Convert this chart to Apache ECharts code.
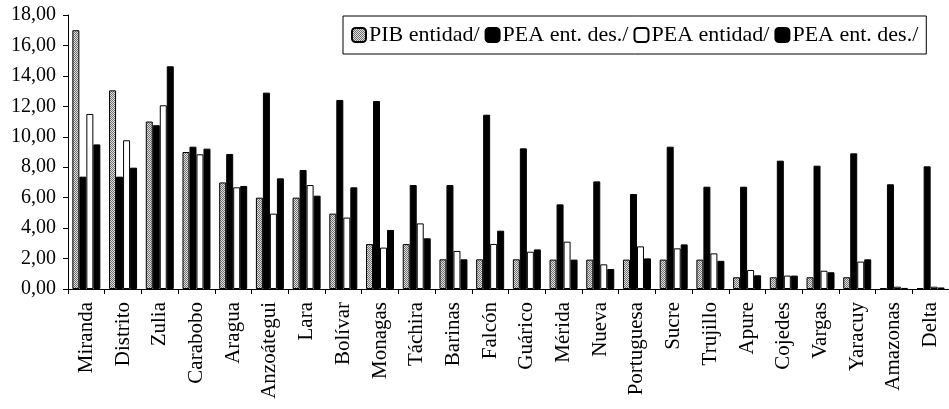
<!DOCTYPE html>
<html><head><meta charset="utf-8">
<script src="https://cdn.jsdelivr.net/npm/echarts@6/dist/echarts.min.js"></script>
<style>html,body{margin:0;padding:0;background:#fff}#c{width:949px;height:409px}</style>
</head><body><div id="c"></div>
<script>
var categories = ['Miranda','Distrito','Zulia','Carabobo','Aragua','Anzoátegui','Lara','Bolívar','Monagas','Táchira','Barinas','Falcón','Guárico','Mérida','Nueva','Portuguesa','Sucre','Trujillo','Apure','Cojedes','Vargas','Yaracuy','Amazonas','Delta'];
var pibEntidad = [17.0, 13.05, 11.0, 9.0, 7.0, 6.0, 6.0, 4.95, 2.95, 2.95, 1.95, 1.95, 1.95, 1.93, 1.93, 1.93, 1.93, 1.93, 0.77, 0.77, 0.77, 0.77, 0.05, 0.05];
var peaEntDes1 = [7.38, 7.38, 10.76, 9.35, 8.87, 12.9, 7.82, 12.42, 12.35, 6.83, 6.83, 11.45, 9.24, 5.56, 7.07, 6.24, 9.35, 6.72, 6.72, 8.43, 8.1, 8.91, 6.88, 8.06];
var peaEntidad = [11.5, 9.77, 12.07, 8.85, 6.68, 4.95, 6.83, 4.69, 2.72, 4.31, 2.5, 2.96, 2.45, 3.11, 1.62, 2.8, 2.67, 2.34, 1.25, 0.88, 1.2, 1.8, 0.15, 0.15];
var peaEntDes2 = [9.5, 7.97, 14.63, 9.22, 6.77, 7.27, 6.13, 6.68, 3.88, 3.33, 1.95, 3.83, 2.6, 1.93, 1.31, 2.01, 2.93, 1.85, 0.9, 0.88, 1.1, 1.95, 0.07, 0.1];
var seriesNames = ['PIB entidad/', 'PEA ent. des./', 'PEA entidad/', 'PEA ent. des./ (2)'];

var pc = document.createElement('canvas'); pc.width = 2; pc.height = 2;
var g = pc.getContext('2d');
g.fillStyle = '#e0e0e0'; g.fillRect(0,0,2,2);
g.fillStyle = '#707070'; g.fillRect(0,0,1,1); g.fillRect(1,1,1,1);
var hatch = {image: pc, repeat: 'repeat'};

var FONT = 'Liberation Serif';
var chart = echarts.init(document.getElementById('c'), null, {renderer: 'canvas'});
function mk(name, data, color) {
  return {name: name, type: 'bar', data: data, barWidth: 7, barGap: '0%',
    itemStyle: {color: color, borderColor: '#000', borderWidth: 1}, animation: false};
}
chart.setOption({
  animation: false,
  textStyle: {fontFamily: FONT, color: '#000'},
  grid: {left: 68, top: 15, width: 886, bottom: 120, containLabel: false},
  legend: {
    left: 343, top: 16, itemWidth: 14, itemHeight: 14, itemGap: 5,
    padding: [8, 8, 8, 8], borderColor: '#000', borderWidth: 1,
    textStyle: {fontFamily: FONT, fontSize: 22, color: '#000', padding: [0, 0, 0, -2]},
    formatter: function (n) { return n.replace(' (2)', ''); },
    data: seriesNames
  },
  xAxis: {
    type: 'category', data: categories,
    axisLine: {lineStyle: {color: '#000', width: 1}},
    axisTick: {show: true, length: 5, lineStyle: {color: '#000'}},
    axisLabel: {rotate: 90, interval: 0, margin: 13, fontFamily: FONT, fontSize: 21, color: '#000'}
  },
  yAxis: {
    type: 'value', min: 0, max: 18, interval: 2,
    splitLine: {show: false},
    axisLine: {show: true, lineStyle: {color: '#000', width: 1}},
    axisTick: {show: true, length: 5, lineStyle: {color: '#000'}},
    axisLabel: {margin: 12, fontFamily: FONT, fontSize: 20, color: '#000',
      formatter: function (v) { return v.toFixed(2).replace('.', ','); }}
  },
  series: [
    mk(seriesNames[0], pibEntidad, hatch),
    mk(seriesNames[1], peaEntDes1, '#000'),
    mk(seriesNames[2], peaEntidad, '#fff'),
    mk(seriesNames[3], peaEntDes2, '#000')
  ]
});
</script></body></html>
